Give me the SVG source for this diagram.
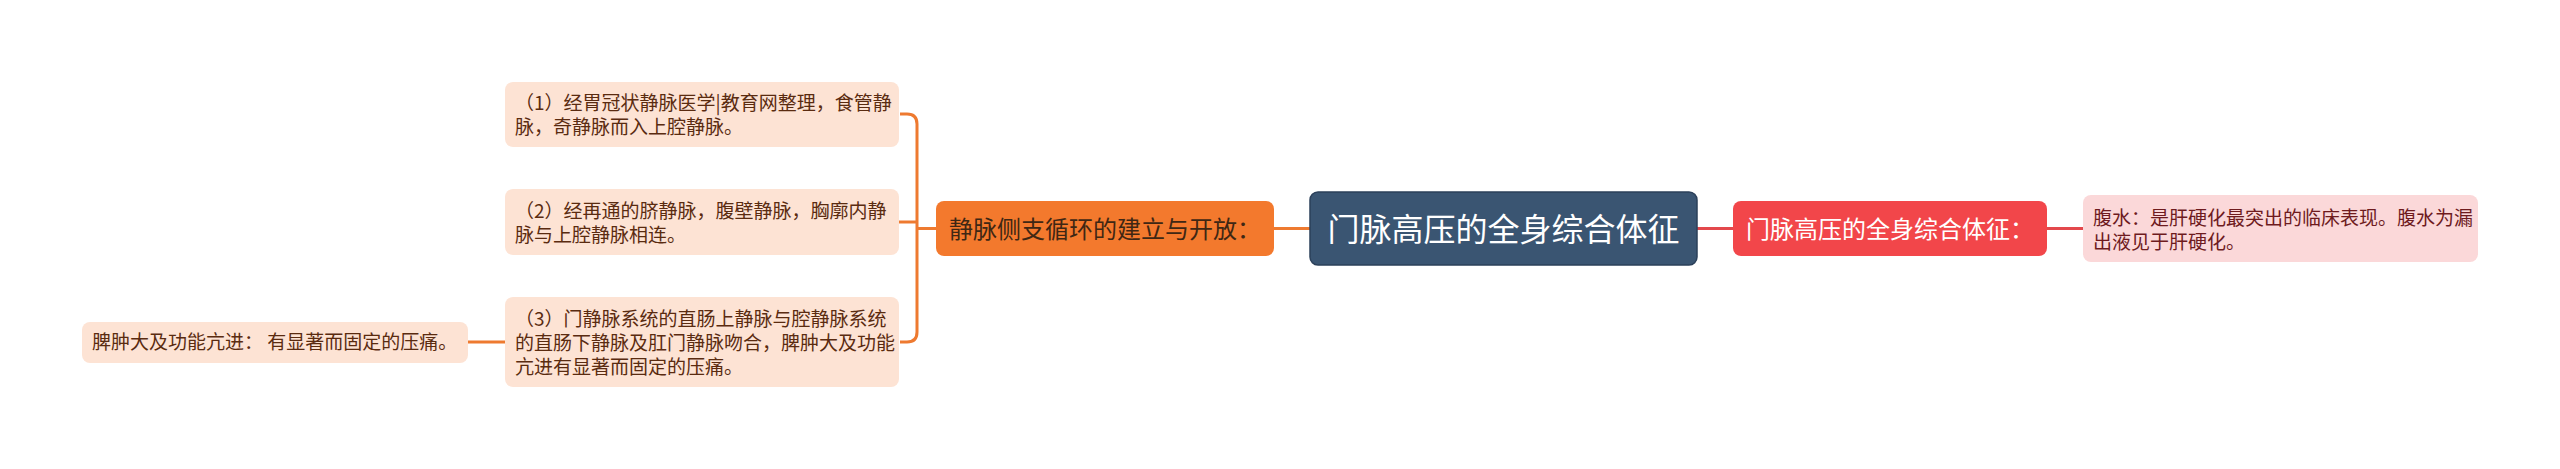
<svg xmlns="http://www.w3.org/2000/svg" width="2560" height="469" viewBox="0 0 2560 469">
<style>
text{font-family:"Noto Sans CJK SC","Noto Sans",sans-serif}
.leafO rect{fill:#fde3d4}
.leafO text{fill:#5a2b10;font-size:19px}
.leafR rect{fill:#fbd8d9}
.leafR text{fill:#6e1b1e;font-size:19px}
.c{fill:none;stroke-width:3}
.co{stroke:#ee7a30}
.cr{stroke:#e3484c}
</style>
<rect width="2560" height="469" fill="#ffffff"/>
<g id="connectors">
<path class="c co" d="M936 228.5 H917"/>
<path class="c co" d="M900 114 H907 Q917 114 917 124 V332 Q917 342 907 342 H900"/>
<path class="c co" d="M899 222 H917"/>
<path class="c co" d="M468 342 H505"/>
<path class="c co" d="M1274 228.5 H1310"/>
<path class="c cr" d="M1697 228.5 H1733"/>
<path class="c cr" d="M2047 228.5 H2083"/>
</g>
<g id="root">
<rect x="1310" y="192" width="387" height="73" rx="8" fill="#3a5572" stroke="#2b405a" stroke-width="1.5"/>
<text x="1503.5" y="240.5" text-anchor="middle" font-size="32" fill="#ffffff">门脉高压的全身综合体征</text>
</g>
<g id="branch-left">
<rect x="936" y="201" width="338" height="55" rx="8" fill="#f3792d"/>
<text x="1105" y="237.5" text-anchor="middle" font-size="24" fill="#3f2714">静脉侧支循环的建立与开放：</text>
</g>
<g id="branch-right">
<rect x="1733" y="201" width="314" height="55" rx="8" fill="#f2464a"/>
<text x="1890" y="237.5" text-anchor="middle" font-size="24" fill="#ffffff">门脉高压的全身综合体征：</text>
</g>
<g id="leaf1" class="leafO">
<rect x="505" y="82" width="394" height="65" rx="8"/>
<text x="515" y="110">（1）经胃冠状静脉医学|教育网整理，食管静</text>
<text x="515" y="134">脉，奇静脉而入上腔静脉。</text>
</g>
<g id="leaf2" class="leafO">
<rect x="505" y="189" width="394" height="66" rx="8"/>
<text x="515" y="218">（2）经再通的脐静脉，腹壁静脉，胸廓内静</text>
<text x="515" y="242">脉与上腔静脉相连。</text>
</g>
<g id="leaf3" class="leafO">
<rect x="505" y="297" width="394" height="90" rx="8"/>
<text x="515" y="326">（3）门静脉系统的直肠上静脉与腔静脉系统</text>
<text x="515" y="350">的直肠下静脉及肛门静脉吻合，脾肿大及功能</text>
<text x="515" y="374">亢进有显著而固定的压痛。</text>
</g>
<g id="leaf4" class="leafO">
<rect x="82" y="322" width="386" height="41" rx="8"/>
<text x="92" y="349">脾肿大及功能亢进： 有显著而固定的压痛。</text>
</g>
<g id="leaf5" class="leafR">
<rect x="2083" y="195" width="395" height="67" rx="8"/>
<text x="2093" y="225">腹水：是肝硬化最突出的临床表现。腹水为漏</text>
<text x="2093" y="249">出液见于肝硬化。</text>
</g>
</svg>
